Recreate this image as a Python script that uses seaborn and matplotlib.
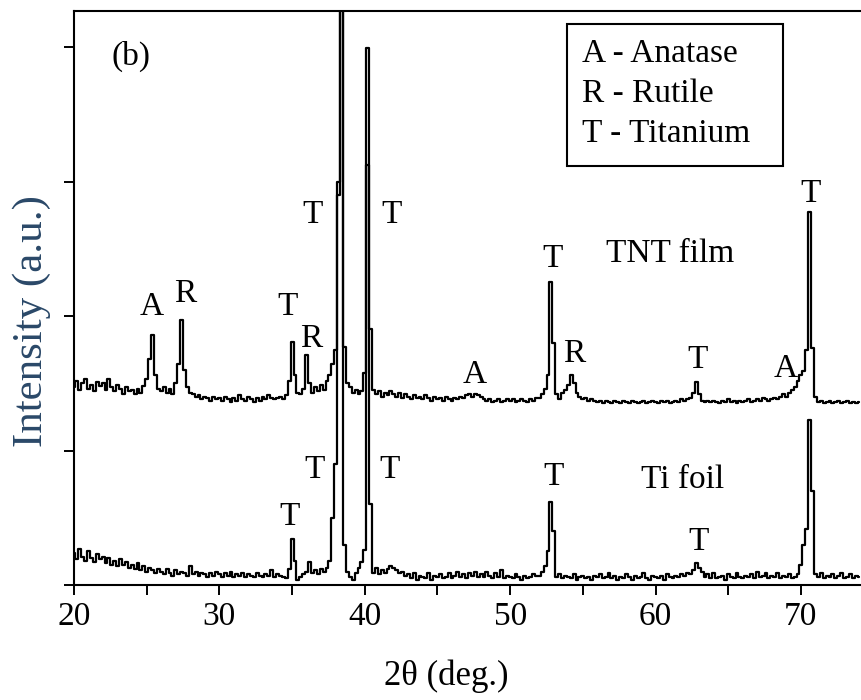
import numpy as np
import pandas as pd
import matplotlib
matplotlib.use("Agg")
import matplotlib.pyplot as plt
from matplotlib.patches import Rectangle
import seaborn as sns

two_theta = np.round(np.arange(20.0, 74.01, 0.2), 1)

tnt_film = [
    1470, 1520, 1450, 1500, 1530, 1460, 1490, 1440, 1510, 1480,  # 20
    1500, 1450, 1530, 1470, 1440, 1490, 1460, 1420, 1470, 1440,  # 22
    1450, 1420, 1460, 1430, 1480, 1530, 1680, 1860, 1560, 1460,  # 24
    1440, 1470, 1430, 1460, 1420, 1500, 1640, 1970, 1600, 1470,  # 26
    1430, 1420, 1400, 1410, 1380, 1400, 1390, 1370, 1400, 1380,  # 28
    1390, 1370, 1400, 1380, 1360, 1390, 1370, 1410, 1380, 1370,  # 30
    1400, 1380, 1360, 1390, 1370, 1400, 1380, 1410, 1390, 1380,  # 32
    1390, 1400, 1380, 1410, 1520, 1810, 1560, 1430, 1420, 1460,  # 34
    1710, 1500, 1430, 1470, 1440, 1490, 1450, 1520, 1560, 1640,  # 36
    1750, 2900, 8000, 1770, 1500, 1470, 1430, 1450, 1420, 1440,  # 38
    1580, 3990, 1900, 1450, 1420, 1440, 1400, 1430, 1410, 1440,  # 40
    1420, 1400, 1430, 1390, 1420, 1400, 1380, 1410, 1390, 1400,  # 42
    1380, 1410, 1390, 1370, 1400, 1380, 1390, 1370, 1400, 1380,  # 44
    1370, 1390, 1380, 1400, 1390, 1410, 1420, 1400, 1420, 1410,  # 46
    1400, 1380, 1370, 1380, 1360, 1370, 1380, 1360, 1370, 1380,  # 48
    1370, 1380, 1360, 1370, 1380, 1370, 1360, 1380, 1370, 1390,  # 50
    1390, 1420, 1460, 1560, 2250, 1800, 1420, 1380, 1430, 1450,  # 52
    1490, 1560, 1500, 1430, 1400, 1380, 1390, 1370, 1380, 1370,  # 54
    1360, 1370, 1350, 1370, 1360, 1350, 1370, 1360, 1350, 1370,  # 56
    1360, 1350, 1370, 1360, 1350, 1360, 1370, 1350, 1360, 1370,  # 58
    1360, 1350, 1370, 1360, 1370, 1350, 1360, 1370, 1360, 1380,  # 60
    1370, 1380, 1390, 1430, 1510, 1420, 1370, 1360, 1370, 1360,  # 62
    1370, 1360, 1350, 1370, 1360, 1380, 1360, 1370, 1350, 1370,  # 64
    1360, 1370, 1380, 1360, 1370, 1380, 1370, 1390, 1380, 1370,  # 66
    1380, 1390, 1380, 1400, 1420, 1400, 1430, 1450, 1470, 1520,  # 68
    1560, 1590, 1750, 2770, 1760, 1400, 1360, 1370, 1350, 1360,  # 70
    1370, 1350, 1360, 1370, 1350, 1360, 1370, 1350, 1360, 1350,  # 72
    1360,
]

ti_foil = [
    240, 190, 270, 210, 180, 250, 200, 170, 230, 190,  # 20
    210, 160, 200, 150, 180, 140, 190, 150, 170, 130,  # 22
    150, 120, 160, 110, 140, 100, 130, 110, 90, 120,  # 24
    100, 80, 120, 90, 70, 110, 80, 100, 90, 70,  # 26
    140, 80, 100, 70, 90, 80, 60, 90, 70, 100,  # 28
    80, 60, 90, 70, 100, 60, 80, 70, 90, 60,  # 30
    80, 70, 60, 90, 70, 60, 80, 70, 110, 60,  # 32
    80, 70, 60, 50, 120, 340, 180, 40, 60, 80,  # 34
    100, 170, 90, 110, 80, 120, 100, 130, 180, 500,  # 36
    900, 3000, 7000, 300, 100, 60, 40, 90, 130, 170,  # 38
    260, 3120, 600, 90, 130, 80, 110, 90, 120, 140,  # 40
    130, 110, 90, 100, 70, 80, 50, 90, 40, 70,  # 42
    60, 50, 90, 40, 70, 60, 80, 50, 60, 90,  # 44
    50, 70, 100, 60, 80, 50, 90, 70, 100, 60,  # 46
    80, 60, 100, 70, 50, 90, 60, 110, 50, 70,  # 48
    60, 50, 80, 60, 40, 70, 50, 60, 80, 70,  # 50
    70, 100, 140, 250, 620, 400, 60, 80, 50, 70,  # 52
    60, 50, 80, 40, 60, 70, 50, 60, 40, 70,  # 54
    60, 80, 50, 60, 90, 50, 70, 40, 60, 50,  # 56
    80, 60, 40, 70, 50, 60, 90, 50, 40, 70,  # 58
    60, 50, 70, 40, 80, 60, 50, 70, 60, 80,  # 60
    70, 90, 80, 110, 160, 130, 100, 60, 80, 50,  # 62
    90, 50, 60, 70, 40, 80, 60, 50, 90, 60,  # 64
    50, 70, 60, 80, 50, 100, 60, 70, 90, 50,  # 66
    70, 60, 90, 50, 70, 60, 80, 50, 60, 80,  # 68
    150, 300, 420, 1230, 700, 80, 60, 90, 50, 70,  # 70
    60, 80, 50, 70, 90, 50, 60, 80, 50, 70,  # 72
    60,
]

xticks = [20, 30, 40, 50, 60, 70]
legend_lines = ["A - Anatase", "R - Rutile", "T - Titanium"]

# phase markers: (label, 2theta, counts at baseline of the letter)
tnt_marks = [
    ("A", 25.36, 2007), ("R", 27.63, 2104), ("T", 34.71, 2007),
    ("R", 36.29, 1770), ("T", 36.43, 2691), ("T", 41.86, 2691),
    ("A", 47.56, 1502), ("T", 52.92, 2364), ("R", 54.43, 1658),
    ("T", 62.89, 1613), ("A", 68.93, 1546), ("T", 70.65, 2848),
]
ti_marks = [
    ("T", 34.85, 446), ("T", 36.56, 796), ("T", 41.72, 796),
    ("T", 52.99, 743), ("T", 62.95, 260),
]

assert len(tnt_film) == len(two_theta) == len(ti_foil)

sns.set_theme(style="ticks")
plt.rcParams["font.family"] = ["Liberation Serif", "DejaVu Serif"]
plt.rcParams["font.size"] = 24
for key in ["text.color", "axes.labelcolor", "xtick.color", "ytick.color"]:
    plt.rcParams[key] = "black"

fig = plt.figure(figsize=(8.62, 7.0), dpi=100)
ax = fig.add_axes([74 / 862, 115 / 700, 788 / 862, 574 / 700])

df = pd.DataFrame({"two_theta": two_theta, "tnt": tnt_film, "ti": ti_foil})
line_kw = dict(color="black", lw=1.6, drawstyle="steps-mid", estimator=None, ax=ax)
sns.lineplot(data=df, x="two_theta", y="ti", **line_kw)
sns.lineplot(data=df, x="two_theta", y="tnt", **line_kw)

ax.set_xlim(20, 74.2)
ax.set_ylim(0, 4268)
ax.set_xticks(xticks)
ax.set_xticks([25, 35, 45, 55, 65], minor=True)
ax.set_yticks([0, 1000, 2000, 3000, 4000])
ax.set_yticklabels([])
ax.tick_params(axis="both", which="both", direction="out", length=7,
               width=1.4, color="black", labelsize=24, pad=5)

for side in ["left", "bottom", "top"]:
    ax.spines[side].set_linewidth(1.5)
    ax.spines[side].set_color("black")
ax.spines["right"].set_visible(False)

ax.set_xlabel("2θ (deg.)", fontsize=25)
ax.xaxis.set_label_coords(0.472, -0.13)
ax.set_ylabel("Intensity (a.u.)", fontsize=31, color="#2a4868")
ax.yaxis.label.set_va("center")
ax.yaxis.set_label_coords(-0.053, 0.46)

for lab, x, y in tnt_marks + ti_marks:
    ax.text(x, y, lab, ha="center", va="baseline", fontsize=24)

ax.text(61.03, 2401, "TNT film", ha="center", va="baseline", fontsize=24)
ax.text(61.86, 721, "Ti foil", ha="center", va="baseline", fontsize=24)
ax.text(23.92, 3866, "(b)", ha="center", va="baseline", fontsize=24)

# legend-style key box in the upper right
ax.add_patch(Rectangle((0.6256, 0.730), 0.2741, 0.2474, transform=ax.transAxes,
                       fc="white", ec="black", lw=1.5, zorder=3))
for i, line in enumerate(legend_lines):
    ax.text(0.6447, 0.911 - i * 0.0697, line, transform=ax.transAxes,
            ha="left", va="baseline", fontsize=24, zorder=4)

fig.savefig("out.png", dpi=100)
plt.close(fig)
